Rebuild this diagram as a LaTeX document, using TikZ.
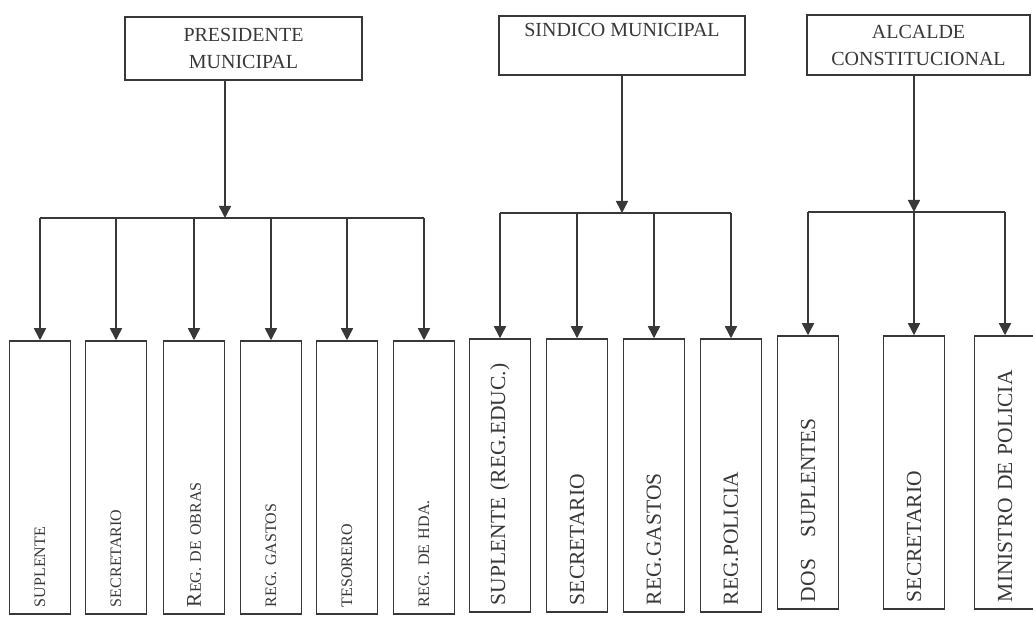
\documentclass[tikz,border=0pt]{standalone}
\usepackage{fontspec}
\setmainfont{Liberation Serif}
\usetikzlibrary{arrows.meta}
\definecolor{tinta}{rgb}{0.22,0.22,0.22}
\tikzset{
	jefe/.style={draw, inner sep=2pt, font=\fontsize{20}{27}\selectfont},
	cargo/.style={draw, rotate=90, minimum width=273pt, minimum height=61pt,
		text width=259pt, align=left, inner xsep=7pt, inner ysep=0pt},
	chico/.style={font=\fontsize{16}{18}\selectfont},
	grande/.style={font=\fontsize{21.5}{24}\selectfont}
}

\begin{document}
\begin{tikzpicture}[x=1pt,y=-1pt,line width=1.5pt,draw=tinta,text=tinta,
		>={Triangle[width=12pt,length=12pt]}]
		\useasboundingbox (0,0) rectangle (1033,617);
		% cabezas
		\node[jefe, minimum width=237pt, minimum height=63pt, align=center] (pres) at (243.5,48.5) {PRESIDENTE\\MUNICIPAL};
		\node[jefe, minimum width=246pt, minimum height=59pt, text height=21pt, text depth=38pt, inner ysep=0pt] (sind) at (622,45.5) {SINDICO MUNICIPAL};
		\node[jefe, minimum width=223pt, minimum height=60pt, align=center] (alc) at (918.5,45) {ALCALDE\\CONSTITUCIONAL};
		\coordinate (j1) at (225,218);
		\coordinate (j2) at (622,213);
		\coordinate (j3) at (914,212);
		% cargos
		\foreach \n/\x/\txt in {1/40/SUPLENTE, 2/116/SECRETARIO, 3/194/{{\fontsize{21}{21}\selectfont R}EG. DE OBRAS},
				4/271/REG. GASTOS, 5/347/TESORERO, 6/424/REG. DE HDA.}{
			\node[cargo, chico] (a\n) at (\x,477.5) {\txt};
		}
		\foreach \n/\x/\txt in {1/500/SUPLENTE (REG.EDUC.), 2/577/SECRETARIO, 3/654/REG.GASTOS, 4/731/REG.POLICIA}{
			\node[cargo, grande] (b\n) at (\x,475.5) {\txt};
		}
		\foreach \n/\x/\txt in {1/808/{DOS\hspace{1em}SUPLENTES}, 2/914/SECRETARIO, 3/1005/MINISTRO DE POLICIA}{
			\node[cargo, grande] (c\n) at (\x,472.5) {\txt};
		}
		% lineas
		\draw[->] (pres.south -| j1) -- (j1);
		\draw[->] (sind.south -| j2) -- (j2);
		\draw[->] (alc.south -| j3) -- (j3);
		\draw (j1 -| a1) -- (j1 -| a6);
		\draw (j2 -| b1) -- (j2 -| b4);
		\draw (j3 -| c1) -- (j3 -| c3);
		\foreach \n in {1,...,6} \draw[->] (j1 -| a\n) -- (a\n.east);
		\foreach \n in {1,...,4} \draw[->] (j2 -| b\n) -- (b\n.east);
		\foreach \n in {1,...,3} \draw[->] (j3 -| c\n) -- (c\n.east);
		\end{tikzpicture}
\end{document}
